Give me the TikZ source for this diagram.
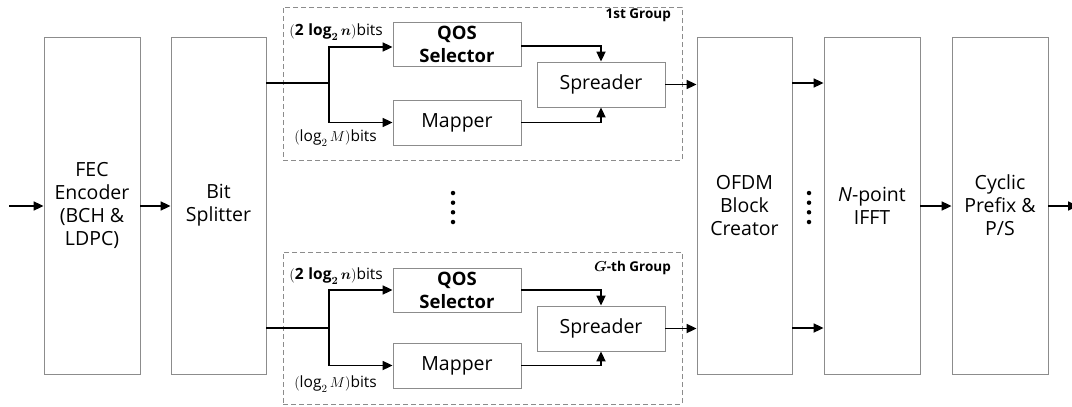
\documentclass[tikz,border=0pt]{standalone}
\usepackage{amsmath,bm}
\usepackage{fontspec}
\setmainfont{Open Sans}
\usetikzlibrary{arrows.meta,calc}
\begin{document}
\begin{tikzpicture}[x=1pt,y=-1pt,
  blk/.style={draw=black!45,line width=0.8pt,fill=white,align=center,font=\fontsize{19.5}{23}\selectfont,inner sep=0pt},
  bblk/.style={blk,font=\fontsize{18.5}{23}\selectfont\bfseries},
  grp/.style={draw=black!45,line width=0.8pt,dash pattern=on 5pt off 3pt},
  arr/.style={line width=1.7pt,-{Triangle[length=10pt,width=9pt]}},
  ln/.style={line width=1.7pt},
  bitlbl/.style={font=\fontsize{15.5}{17}\selectfont,anchor=east,inner sep=0pt},
  grplbl/.style={font=\fontsize{13.5}{15}\selectfont\bfseries,anchor=east,inner sep=0pt},
  dot/.style={circle,fill=black,inner sep=0pt,minimum size=4.5pt}]
\useasboundingbox (0,0) rectangle (1072,407);
% main blocks
\node[blk,minimum width=96pt,minimum height=337pt] (fec) at (92,205.5) {FEC\\Encoder\\(BCH \&\\LDPC)};
\node[blk,minimum width=95pt,minimum height=337pt] (bs) at (218.5,205.5) {Bit\\Splitter};
\node[blk,minimum width=95pt,minimum height=337pt] (ofdm) at (744.5,205.5) {OFDM\\Block\\Creator};
\node[blk,minimum width=96pt,minimum height=337pt] (ifft) at (872,205.5) {\textit{N}-point\\IFFT};
\node[blk,minimum width=96pt,minimum height=337pt] (cp) at (1000,205.5) {Cyclic\\Prefix \&\\P/S};
% groups
\node[grp,minimum width=399pt,minimum height=153pt,inner sep=0pt] (g1) at (482.5,83.5) {};
\node[grp,minimum width=399pt,minimum height=152pt,inner sep=0pt] (g2) at (482.5,328) {};
\node[grplbl] (g1l) at (671,15) {1st Group};
\node[grplbl] (g2l) at (671,268) {$\bm{G}$-th Group};
% group 1 blocks
\node[bblk,minimum width=128pt,minimum height=44pt] (qos1) at (457,44) {QOS\\Selector};
\node[blk,minimum width=128pt,minimum height=45pt] (map1) at (457,122.5) {Mapper};
\node[blk,minimum width=128pt,minimum height=45pt] (spr1) at (601,84.5) {Spreader};
% group 2 blocks
\node[bblk,minimum width=128pt,minimum height=44pt] (qos2) at (457,290) {QOS\\Selector};
\node[blk,minimum width=128pt,minimum height=45pt] (map2) at (457,365.5) {Mapper};
\node[blk,minimum width=128pt,minimum height=45pt] (spr2) at (601,328.5) {Spreader};
% bit labels
\node[bitlbl] (b1a) at (383,32) {$(\mathbf{2}\,\bm{\log_2 n})$bits};
\node[bitlbl] (b1b) at (377,138) {$(\log_2 M)$bits};
\node[bitlbl] (b2a) at (383,276) {$(\mathbf{2}\,\bm{\log_2 n})$bits};
\node[bitlbl] (b2b) at (377,384) {$(\log_2 M)$bits};
% coordinates
\coordinate (in) at (9,206);
\coordinate (out) at (1078,206);
\coordinate (br1) at (329,83);
\coordinate (br2) at (329,328);
% connectors
\draw[arr] (in) -- (fec.west |- in);
\draw[arr] (fec.east |- in) -- (bs.west |- in);
\draw[ln] (bs.east |- br1) -- (br1);
\draw[ln] (bs.east |- br2) -- (br2);
\draw[arr] (br1) |- ($(qos1.west)+(0,3)$);
\draw[arr] (br1) |- (map1.west);
\draw[arr] (br2) |- (qos2.west);
\draw[arr] (br2) |- (map2.west);
\draw[arr] ($(qos1.east)+(0,2)$) -| (spr1.north);
\draw[arr] (map1.east) -| (spr1.south);
\draw[arr] (qos2.east) -| (spr2.north);
\draw[arr] (map2.east) -| (spr2.south);
\draw[arr] (spr1.east) -- (spr1.east -| ofdm.west);
\draw[arr] (spr2.east) -- (spr2.east -| ofdm.west);
\draw[arr] (ofdm.east |- br1) -- (ifft.west |- br1);
\draw[arr] (ofdm.east |- br2) -- (ifft.west |- br2);
\draw[arr] (ifft.east |- in) -- (cp.west |- in);
\draw[arr] (cp.east |- in) -- (out);
% dots
\foreach \i/\y in {1/193,2/202.7,3/212.3,4/222} {
  \node[dot] (da\i) at (453,\y) {};
  \node[dot] (db\i) at (809,\y) {};
}
\end{tikzpicture}
\end{document}
